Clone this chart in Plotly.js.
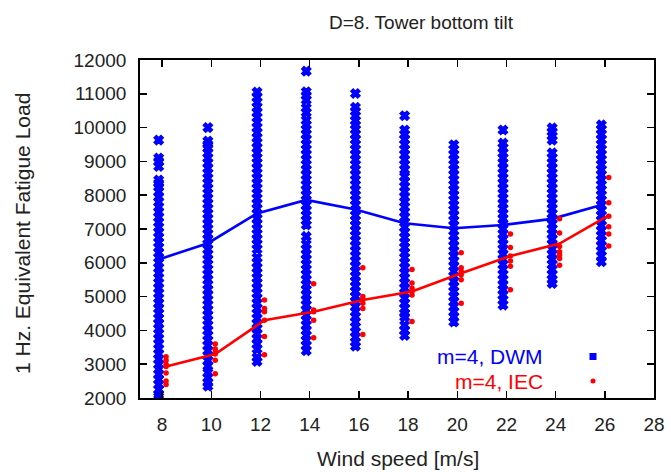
<!DOCTYPE html>
<html>
<head>
<meta charset="utf-8">
<script src="https://cdn.plot.ly/plotly-3.0.1.min.js"></script>
<style>html,body{margin:0;padding:0;background:#fff;}#chart{width:671px;height:472px;}</style>
</head>
<body>
<div id="chart"></div>
<script>
// Wind speed categories
var windSpeeds = [8, 10, 12, 14, 16, 18, 20, 22, 24, 26];

// m=4, DWM: equivalent fatigue load samples per wind speed
var dwm8  = [9630, 9100, 9000, 8850, 8450, 8350, 8250, 8100, 7950, 7800, 7650, 7500, 7350, 7200, 7050, 6900, 6750, 6600, 6450, 6300, 6150, 6000, 5850, 5700, 5550, 5400, 5250, 5100, 4950, 4800, 4650, 4500, 4350, 4200, 4050, 3900, 3750, 3600, 3450, 3300, 3150, 3000, 2850, 2700, 2550, 2400, 2250, 2100, 2040];
var dwm10 = [10000, 9600, 9500, 9400, 9250, 9100, 8950, 8800, 8650, 8500, 8350, 8200, 8050, 7900, 7750, 7600, 7450, 7300, 7150, 7000, 6850, 6700, 6550, 6400, 6250, 6100, 5950, 5800, 5650, 5500, 5350, 5200, 5050, 4900, 4750, 4600, 4450, 4300, 4150, 4000, 3850, 3700, 3550, 3400, 3250, 3100, 2950, 2750, 2600, 2450, 2350];
var dwm12 = [11050, 10900, 10750, 10600, 10450, 10300, 10150, 10000, 9850, 9700, 9550, 9400, 9250, 9100, 8950, 8800, 8650, 8500, 8350, 8200, 8050, 7900, 7750, 7600, 7450, 7300, 7150, 7000, 6850, 6700, 6550, 6400, 6150, 6000, 5850, 5700, 5550, 5400, 5250, 5100, 4950, 4800, 4650, 4500, 4350, 4200, 4050, 3900, 3750, 3600, 3450, 3200, 3080];
var dwm14 = [11670, 11060, 10950, 10820, 10580, 10450, 10220, 10080, 9950, 9800, 9650, 9500, 9350, 9200, 9050, 8900, 8750, 8600, 8450, 8300, 8150, 8000, 7850, 7700, 7550, 7400, 7250, 7120, 6780, 6550, 6400, 6250, 6100, 5950, 5800, 5650, 5500, 5350, 5200, 5050, 4900, 4750, 4600, 4450, 4300, 4150, 4000, 3850, 3700, 3550, 3400];
var dwm16 = [11010, 10600, 10480, 10350, 10200, 10080, 9950, 9800, 9650, 9500, 9350, 9200, 9050, 8900, 8750, 8600, 8450, 8300, 8150, 8000, 7850, 7700, 7550, 7400, 7250, 7100, 6950, 6800, 6650, 6500, 6350, 6200, 6050, 5900, 5750, 5600, 5450, 5300, 5150, 5000, 4850, 4700, 4550, 4400, 4250, 4100, 3950, 3800, 3650, 3530];
var dwm18 = [10350, 9930, 9800, 9650, 9500, 9350, 9200, 9050, 8900, 8750, 8550, 8400, 8250, 8100, 7950, 7800, 7650, 7500, 7350, 7200, 7050, 6900, 6750, 6600, 6450, 6300, 6150, 6000, 5850, 5700, 5550, 5400, 5250, 5100, 4950, 4800, 4650, 4500, 4400, 4150, 4000, 3850];
var dwm20 = [9490, 9350, 9200, 9050, 8900, 8750, 8600, 8450, 8300, 8150, 8000, 7850, 7700, 7560, 7400, 7250, 7100, 6950, 6800, 6650, 6500, 6350, 6200, 6050, 5900, 5750, 5600, 5450, 5300, 5150, 5000, 4850, 4700, 4550, 4400, 4250];
var dwm22 = [9930, 9540, 9400, 9250, 9100, 8950, 8800, 8650, 8500, 8350, 8200, 8050, 7900, 7750, 7600, 7450, 7300, 7150, 7000, 6850, 6700, 6550, 6400, 6250, 6100, 5950, 5800, 5650, 5500, 5340, 5200, 5050, 4900, 4750];
var dwm24 = [9990, 9880, 9750, 9630, 9250, 9100, 8950, 8800, 8650, 8500, 8350, 8200, 8050, 7900, 7750, 7600, 7450, 7300, 7150, 7000, 6850, 6700, 6550, 6400, 6250, 6100, 5950, 5800, 5650, 5500, 5390];
var dwm26 = [10080, 9950, 9800, 9650, 9500, 9350, 9200, 9050, 8900, 8750, 8600, 8450, 8300, 8150, 8000, 7850, 7700, 7550, 7400, 7250, 7100, 6950, 6800, 6650, 6500, 6350, 6200, 6030];
var dwmMean = [6100, 6580, 7460, 7860, 7580, 7170, 7020, 7120, 7300, 7710];

// m=4, IEC: equivalent fatigue load samples per wind speed
var iec8  = [3220, 3120, 3000, 2930, 2740, 2500, 2400];
var iec10 = [3600, 3450, 3370, 3300, 3120, 2720];
var iec12 = [4900, 4650, 4550, 4300, 3820, 3280];
var iec14 = [5380, 4600, 4550, 4300, 3780];
var iec16 = [5850, 5000, 4920, 4800, 4650, 3880];
var iec18 = [5800, 5400, 5250, 5150, 5050, 4260];
var iec20 = [6300, 5850, 5750, 5650, 5500, 4800];
var iec22 = [6850, 6450, 6200, 6050, 5900, 5200];
var iec24 = [7300, 6880, 6480, 6330, 6230, 6130, 5930];
var iec26 = [8520, 7780, 7380, 7070, 6850, 6500];
var iecMean = [2930, 3300, 4300, 4550, 4900, 5150, 5690, 6200, 6570, 7400];

var xTicks = [8, 10, 12, 14, 16, 18, 20, 22, 24, 26, 28];

var dwmCols = [dwm8, dwm10, dwm12, dwm14, dwm16, dwm18, dwm20, dwm22, dwm24, dwm26];
var iecCols = [iec8, iec10, iec12, iec14, iec16, iec18, iec20, iec22, iec24, iec26];

var blueShift = -0.14, redShift = 0.16;
var BLUE = '#0000ff', RED = '#ff0000';

function flatten(cols, shift) {
  var xs = [], ys = [];
  cols.forEach(function (col, i) {
    col.forEach(function (v) { xs.push(windSpeeds[i] + shift); ys.push(v); });
  });
  return {x: xs, y: ys};
}
var dwmPts = flatten(dwmCols, blueShift);
var iecPts = flatten(iecCols, redShift);

var traces = [
  {x: dwmPts.x, y: dwmPts.y, mode: 'markers', type: 'scatter',
   marker: {symbol: 'x', size: 8, color: BLUE, line: {width: 1.5, color: BLUE}}, hoverinfo: 'skip'},
  {x: windSpeeds.map(function (w) { return w + blueShift; }), y: dwmMean, mode: 'lines', type: 'scatter',
   line: {color: BLUE, width: 2.6}},
  {x: iecPts.x, y: iecPts.y, mode: 'markers', type: 'scatter',
   marker: {symbol: 'circle', size: 5.5, color: RED, line: {width: 0}}},
  {x: windSpeeds.map(function (w) { return w + redShift; }), y: iecMean, mode: 'lines', type: 'scatter',
   line: {color: RED, width: 2.6}}
];

var L = 140, R = 654, T = 60, B = 398;
var W = 671, H = 472;
function px(xp) { return (xp - L) / (R - L); }
function py(yp) { return (B - yp) / (B - T); }

var FONT = 'Liberation Sans, Arial, sans-serif';
var FS = 19;

var layout = {
  width: W, height: H,
  margin: {l: L, r: W - R, t: T, b: H - B, pad: 0},
  paper_bgcolor: '#fff', plot_bgcolor: '#fff',
  showlegend: false,
  font: {family: FONT, size: FS, color: '#222'},
  xaxis: {
    range: [7.1, 28], tickvals: xTicks, ticktext: xTicks.map(String),
    ticks: 'inside', ticklen: 7, tickwidth: 1.5, tickcolor: '#000',
    showline: true, linecolor: '#000', linewidth: 1.8, mirror: 'allticks',
    showgrid: false, zeroline: false, ticklabelstandoff: 8,
    tickfont: {family: FONT, size: FS, color: '#222'}
  },
  yaxis: {
    range: [2000, 12000], tick0: 2000, dtick: 1000, tickformat: 'd',
    ticks: 'inside', ticklen: 7, tickwidth: 1.5, tickcolor: '#000',
    showline: true, linecolor: '#000', linewidth: 1.8, mirror: 'allticks',
    showgrid: false, zeroline: false, ticklabelstandoff: 8,
    tickfont: {family: FONT, size: FS, color: '#222'}
  },
  annotations: [
    {text: 'D=8. Tower bottom tilt', xref: 'paper', yref: 'paper', x: px(421), y: py(22),
     xanchor: 'center', yanchor: 'middle', showarrow: false, font: {family: FONT, size: FS, color: '#222'}},
    {text: '1 Hz. Equivalent Fatigue Load', xref: 'paper', yref: 'paper', x: px(22), y: py(234),
     xanchor: 'center', yanchor: 'middle', textangle: -90, showarrow: false, font: {family: FONT, size: 21, color: '#222'}},
    {text: 'Wind speed [m/s]', xref: 'paper', yref: 'paper', x: px(398), y: py(458),
     xanchor: 'center', yanchor: 'middle', showarrow: false, font: {family: FONT, size: 21, color: '#222'}},
    {text: 'm=4, DWM', xref: 'paper', yref: 'paper', x: px(545), y: py(356),
     xanchor: 'right', yanchor: 'middle', showarrow: false, font: {family: FONT, size: 21, color: BLUE}},
    {text: 'm=4, IEC', xref: 'paper', yref: 'paper', x: px(545), y: py(381),
     xanchor: 'right', yanchor: 'middle', showarrow: false, font: {family: FONT, size: 21, color: RED}}
  ],
  shapes: [
    {type: 'rect', xref: 'paper', yref: 'paper', x0: px(589.5), x1: px(596.5), y0: py(360), y1: py(353),
     fillcolor: BLUE, line: {width: 0}},
    {type: 'circle', xref: 'paper', yref: 'paper', x0: px(590.5), x1: px(595.5), y0: py(383.5), y1: py(378.5),
     fillcolor: RED, line: {width: 0}}
  ]
};

Plotly.newPlot('chart', traces, layout, {displayModeBar: false, staticPlot: true});
</script>
</body>
</html>
